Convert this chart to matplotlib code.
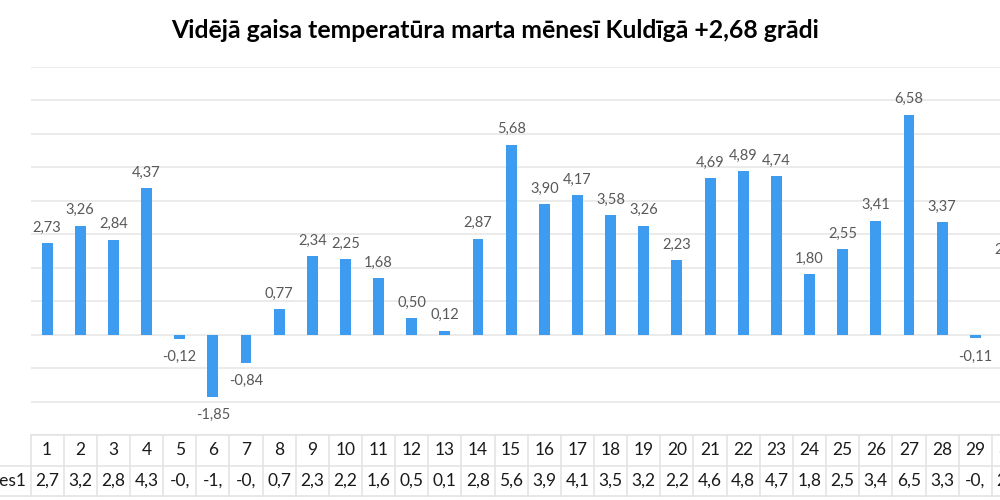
import matplotlib
matplotlib.use("Agg")
import matplotlib.pyplot as plt

days = list(range(1, 32))
temps = [2.73, 3.26, 2.84, 4.37, -0.12, -1.85, -0.84, 0.77, 2.34, 2.25,
         1.68, 0.50, 0.12, 2.87, 5.68, 3.90, 4.17, 3.58, 3.26, 2.23,
         4.69, 4.89, 4.74, 1.80, 2.55, 3.41, 6.58, 3.37, -0.11, 2.07,
         5.35]
series_name = "Series1"
title = "Vidējā gaisa temperatūra marta mēnesī Kuldīgā +2,68 grādi"

plt.rcParams["font.family"] = ["Lato", "DejaVu Sans"]

bar_color = "#3E9CF0"
grid_color = "#E6E6E6"
label_color = "#595959"

fig = plt.figure(figsize=(10, 5), dpi=100)

# pixel geometry of the (cropped) Excel chart
col_w = 33.15
left_px = 30.5
width_px = len(days) * col_w
ax = fig.add_axes([left_px / 1000, 1 - 435 / 500, width_px / 1000, 368 / 500])

ax.bar(days, temps, width=0.33, color=bar_color, zorder=3)
ax.set_xlim(0.5, len(days) + 0.5)
ax.set_ylim(-3, 8)
ax.set_yticks(range(-3, 9))
ax.yaxis.grid(True, color=grid_color, linewidth=1.1, zorder=0)
ax.tick_params(left=False, bottom=False, labelleft=False, labelbottom=False)
for s in ax.spines.values():
    s.set_visible(False)

def fmt(v):
    return f"{v:.2f}".replace(".", ",")

for d, v in zip(days, temps):
    off = 11 if v >= 0 else -13
    ax.annotate(fmt(v), (d, v if v >= 0 else min(v, -0.12)), xytext=(0, off),
                textcoords="offset points", ha="center", va="center",
                fontsize=10.5, color=label_color)

# data table under the chart
tab = fig.add_axes([left_px / 1000, 4 / 500, width_px / 1000, 61 / 500])
tab.set_xlim(0.5, len(days) + 0.5)
tab.set_ylim(0, 2)
tab.axis("off")
border = "#E2E2E2"
tab.plot([0.5, len(days) + 0.5], [2, 2], color=border, lw=1.1, clip_on=False)
tab.plot([-1.5, len(days) + 0.5], [1, 1], color=border, lw=1.1, clip_on=False)
tab.plot([-1.5, len(days) + 0.5], [0, 0], color=border, lw=1.1, clip_on=False)
for k in range(len(days) + 1):
    tab.plot([k + 0.5, k + 0.5], [0, 2], color=border, lw=1.1, clip_on=False)
for d, v in zip(days, temps):
    tab.text(d, 1.5, str(d), ha="center", va="center", fontsize=12.5,
             color="#1a1a1a")
    tab.text(d, 0.5, fmt(v)[:3], ha="center", va="center", fontsize=12.5,
             color="#1a1a1a")
tab.text(0.38, 0.5, series_name, ha="right", va="center", fontsize=12.5,
         color="#1a1a1a", clip_on=False)

fig.text(0.495, 1 - 31 / 500, title, ha="center", va="center",
         fontsize=17.8, fontweight="bold", color="#000000")

fig.savefig("out.png", dpi=100)
